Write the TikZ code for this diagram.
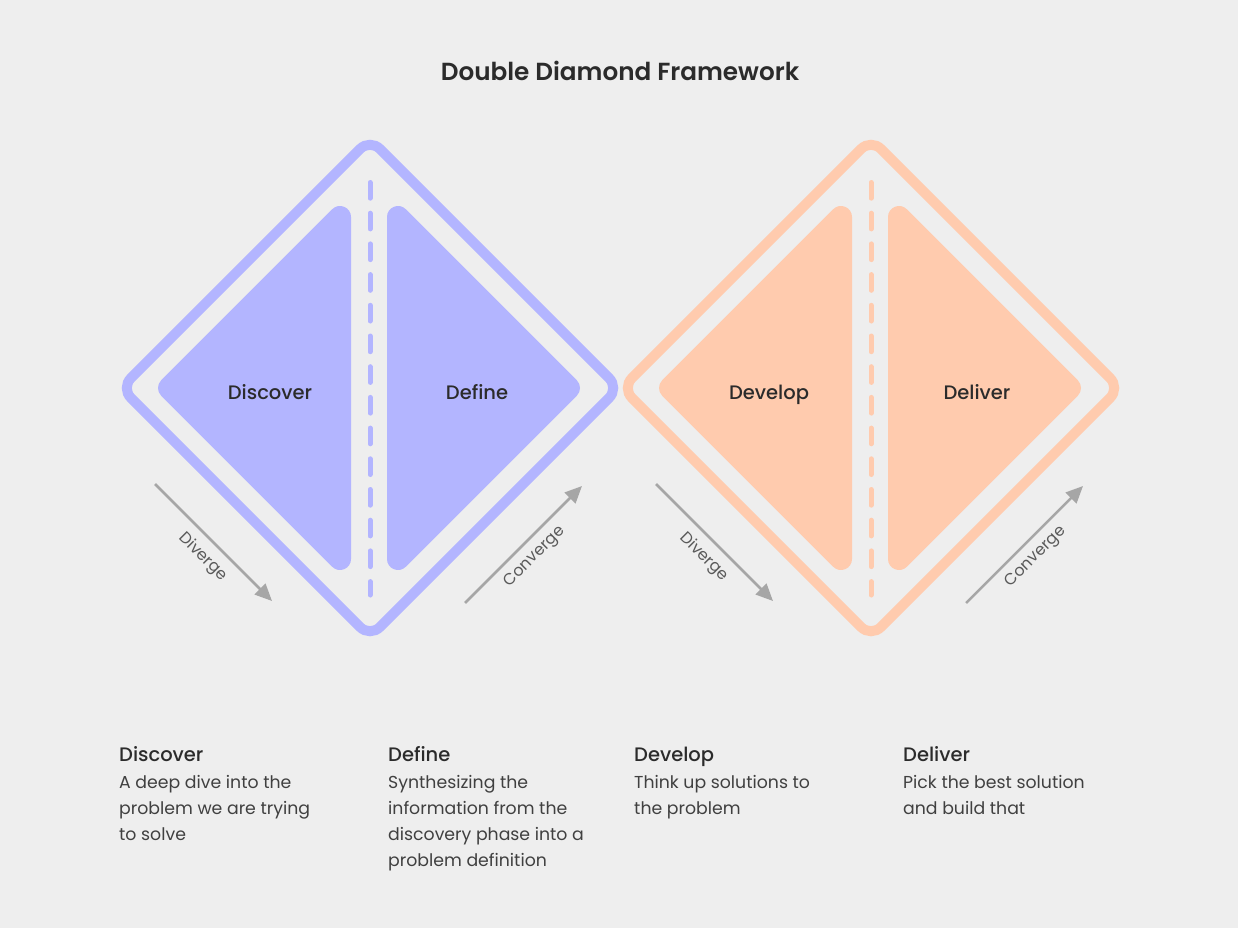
\documentclass[tikz,border=0pt]{standalone}
\usepackage{fontspec}
\setmainfont{Poppins}[BoldFont={Poppins Medium}]
\newfontfamily\titlefont{Poppins SemiBold}
\usetikzlibrary{positioning, arrows.meta, calc}
\definecolor{cBg}{HTML}{EEEEEE}
\definecolor{cL}{HTML}{B3B5FF}
\definecolor{cP}{HTML}{FFCBAE}
\definecolor{cA}{HTML}{A6A6A6}
\definecolor{cT}{HTML}{2B2B2B}

\begin{document}
\begin{tikzpicture}[x=1pt, y=-1pt,
    frame/.style={line width=10pt, rounded corners=14pt},
    half/.style={line width=22pt, line join=round},
    split/.style={line width=5pt, line cap=round, dash pattern=on 15.7pt off 15pt},
    phase/.style={text=cT, anchor=base, font=\fontsize{19.5}{22}\selectfont\bfseries},
    head/.style={text=cT, inner sep=0pt, anchor=base west, font=\fontsize{19.5}{22}\selectfont\bfseries},
    body/.style={text=cT!90, inner sep=0pt, align=left, font=\fontsize{17.3}{26}\selectfont},
    flow/.style={cA, line width=2.5pt, -{Triangle[length=17pt, width=15pt]}},
    hint/.style={text=black!65, font=\fontsize{16}{18}\selectfont}]
    % Background
    \fill[cBg] (0,0) rectangle (1238,928);

    % Title
    \node[text=cT, font=\fontsize{24.7}{28}\titlefont] (title) at (620,71) {Double Diamond Framework};

    % First diamond
    \draw[cL, frame] (370,139) -- (619,388) -- (370,637) -- (121,388) -- cycle;
    \filldraw[cL, half] (340,217) -- (340,559) -- (169,388) -- cycle;
    \filldraw[cL, half] (398,217) -- (569,388) -- (398,559) -- cycle;
    \draw[cL, split] (370,182.5) -- (370,595);

    % Second diamond
    \draw[cP, frame] (871,139) -- (1120,388) -- (871,637) -- (622,388) -- cycle;
    \filldraw[cP, half] (841,217) -- (841,559) -- (670,388) -- cycle;
    \filldraw[cP, half] (899,217) -- (1070,388) -- (899,559) -- cycle;
    \draw[cP, split] (871,182.5) -- (871,595);

    % Phases
    \node[phase] (pDiscover) at (270,399) {Discover};
    \node[phase] (pDefine) at (477,399) {Define};
    \node[phase] (pDevelop) at (769,399) {Develop};
    \node[phase] (pDeliver) at (977,399) {Deliver};

    % Arrows
    \coordinate (d1a) at (155,484);
    \coordinate (d1b) at (272,601);
    \coordinate (c1a) at (465,603);
    \coordinate (c1b) at (582,486);
    \coordinate (d2a) at (656,484);
    \coordinate (d2b) at (773,601);
    \coordinate (c2a) at (966,603);
    \coordinate (c2b) at (1083,486);
    \draw[flow] (d1a) -- (d1b);
    \draw[flow] (c1a) -- (c1b);
    \draw[flow] (d2a) -- (d2b);
    \draw[flow] (c2a) -- (c2b);
    \node[hint, rotate=-45] (dv1) at (203,557) {Diverge};
    \node[hint, rotate=45] (cv1) at (535,557) {Converge};
    \node[hint, rotate=-45] (dv2) at (704,557) {Diverge};
    \node[hint, rotate=45] (cv2) at (1036,557) {Converge};

    % Descriptions
    \node[head] (hDiscover) at (119,761) {Discover};
    \node[body, below right=14pt and 0pt of hDiscover.base west] (tDiscover)
        {A deep dive into the\\problem we are trying\\to solve};
    \node[head] (hDefine) at (388,761) {Define};
    \node[body, below right=14pt and 0pt of hDefine.base west] (tDefine)
        {Synthesizing the\\information from the\\discovery phase into a\\problem definition};
    \node[head] (hDevelop) at (634,761) {Develop};
    \node[body, below right=14pt and 0pt of hDevelop.base west] (tDevelop)
        {Think up solutions to\\the problem};
    \node[head] (hDeliver) at (903,761) {Deliver};
    \node[body, below right=14pt and 0pt of hDeliver.base west] (tDeliver)
        {Pick the best solution\\and build that};
\end{tikzpicture}
\end{document}
